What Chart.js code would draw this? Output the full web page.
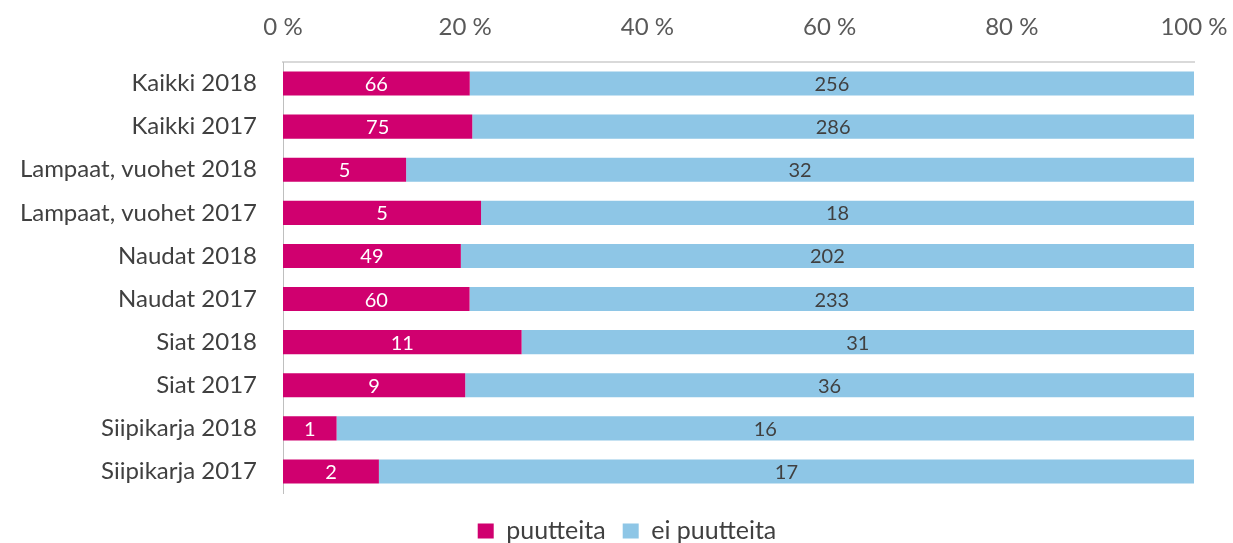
<!DOCTYPE html>
<html><head><meta charset="utf-8">
<script src="https://cdn.jsdelivr.net/npm/chart.js@4/dist/chart.umd.min.js"></script>
<style>html,body{margin:0;padding:0;background:#fff}#wrap{width:1233px;height:543px;position:relative}</style>
</head><body><div id="wrap"><canvas id="c"></canvas></div>
<script>
const categories = ["Kaikki 2018","Kaikki 2017","Lampaat, vuohet 2018","Lampaat, vuohet 2017","Naudat 2018","Naudat 2017","Siat 2018","Siat 2017","Siipikarja 2018","Siipikarja 2017"];
const puutteita = [66,75,5,5,49,60,11,9,1,2];
const eiPuutteita = [256,286,32,18,202,233,31,36,16,17];
const tickLabels = ["0 %","20 %","40 %","60 %","80 %","100 %"];

const totals = puutteita.map((v,i)=>v+eiPuutteita[i]);
const pct1 = puutteita.map((v,i)=>v/totals[i]*100);
const pct2 = eiPuutteita.map((v,i)=>v/totals[i]*100);
const counts = [puutteita, eiPuutteita];
const FONT = "Lato, 'Open Sans', sans-serif";

const labelPlugin = {
  id:'barLabels',
  afterLayout(chart){
    const lg = chart.legend;
    if (lg) { lg.left += 26; lg.right += 26; }
  },
  afterDatasetsDraw(chart){
    const ctx = chart.ctx;
    chart.data.datasets.forEach((ds,di)=>{
      const meta = chart.getDatasetMeta(di);
      meta.data.forEach((bar,i)=>{
        const x = (bar.x + bar.base)/2;
        ctx.save();
        ctx.font = "20px " + FONT;
        ctx.fillStyle = di===0 ? "#ffffff" : "#404040";
        ctx.textAlign = "center";
        ctx.textBaseline = "middle";
        ctx.fillText(String(counts[di][i]), x, bar.y+1);
        ctx.restore();
      });
    });
  }
};

new Chart(document.getElementById('c'), {
  type:'bar',
  data:{
    labels: categories,
    datasets:[
      {label:'puutteita', data:pct1, backgroundColor:'#d0006f', barPercentage:0.56, categoryPercentage:1},
      {label:'ei puutteita', data:pct2, backgroundColor:'#8ec6e6', barPercentage:0.56, categoryPercentage:1}
    ]
  },
  options:{
    indexAxis:'y',
    responsive:true,
    maintainAspectRatio:false,
    animation:false,
    layout:{padding:{left:8,right:39,top:0,bottom:-10.5}},
    scales:{
      x:{
        position:'top', stacked:true, min:0, max:100,
        grid:{display:false, drawTicks:false},
        border:{display:true, color:'#d9d9d9', width:2},
        ticks:{stepSize:20, padding:20, color:'#595959', font:{family:FONT,size:24},
          callback:(v,i)=>tickLabels[i]},
        afterFit:(s)=>{ s.height = 62; s.paddingLeft = 0; s.paddingRight = 0; }
      },
      y:{
        stacked:true,
        grid:{display:false, drawTicks:false},
        border:{display:true, color:'#bfbfbf', width:1},
        ticks:{padding:26, color:'#404040', font:{family:FONT,size:24}},
        afterFit:(s)=>{ s.width = 275; s.paddingTop = 0; s.paddingBottom = 0; }
      }
    },
    plugins:{
      legend:{position:'bottom',
        title:{display:true, text:'', padding:{top:0,bottom:3.7}, font:{size:4}},
        labels:{boxWidth:16, boxHeight:15, color:'#404040', padding:17, font:{family:FONT,size:25}}},
      tooltip:{enabled:false}
    }
  },
  plugins:[labelPlugin]
});
</script></body></html>
